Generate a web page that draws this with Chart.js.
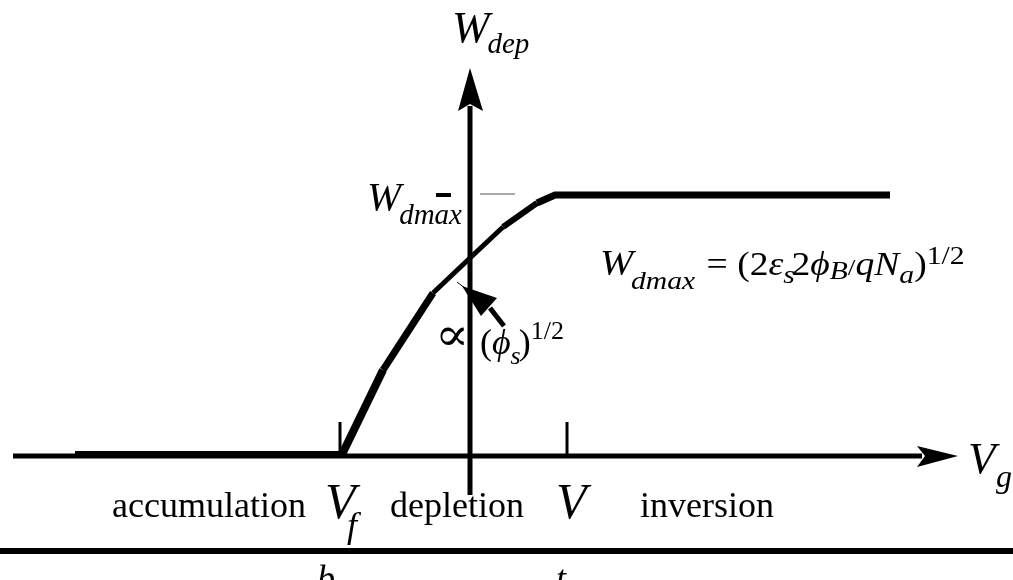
<!DOCTYPE html>
<html>
<head>
<meta charset="utf-8">
<script src="https://cdn.jsdelivr.net/npm/chart.js@4/dist/chart.umd.min.js"></script>
<style>
  body { margin: 0; background: #fff; }
  #wrap { width: 1013px; height: 580px; }
</style>
</head>
<body>
<div id="wrap"><canvas id="mosChart" width="1013" height="580"></canvas></div>
<script>
// Depletion width W_dep versus gate voltage V_g (schematic units)
const gateVoltage = [-3.95, -1.28, -0.87, -0.37, 0.00, 0.33, 0.67, 0.85, 4.20];
const depWidth    = [ 0.015, 0.015, 0.86,  1.63, 1.98, 2.29, 2.53, 2.61, 2.61];

// flat-band and threshold voltages, W_dmax level
const vFlatBand = -1.30;
const vThreshold = 0.97;
const wDmax = 2.61;

// stroke width of each piece of the curve
const segWidths = [7, 8, 7, 5, 5, 6, 7, 7];

const curve = gateVoltage.map((v, i) => ({ x: v, y: depWidth[i] }));

function seg(x0, y0, x1, y1) { return [{ x: x0, y: y0 }, { x: x1, y: y1 }]; }

function lineSet(data, width, color) {
  return {
    data: data, borderColor: color || '#000', borderWidth: width,
    pointRadius: 0, fill: false, tension: 0, borderCapStyle: 'butt'
  };
}

// arrows, labels and the bar under the labels
const overlay = {
  id: 'overlay',
  afterDatasetsDraw(chart) {
    const c = chart.ctx;
    const xs = chart.scales.x, ys = chart.scales.y;
    const P = (x, y) => [xs.getPixelForValue(x), ys.getPixelForValue(y)];
    c.save();
    c.fillStyle = '#000';
    c.strokeStyle = '#000';

    function poly(pts) {
      c.beginPath();
      pts.forEach((p, i) => { const q = P(p[0], p[1]); i ? c.lineTo(q[0], q[1]) : c.moveTo(q[0], q[1]); });
      c.closePath();
      c.fill();
    }
    // axis arrowheads
    poly([[0, 3.88], [-0.12, 3.45], [0, 3.52], [0.13, 3.45]]);
    poly([[4.88, 0], [4.47, 0.10], [4.55, 0], [4.47, -0.11]]);

    // arrow pointing at the curve
    c.lineWidth = 1;
    c.beginPath();
    let a = P(-0.13, 1.74), b = P(0.0, 1.64);
    c.moveTo(a[0], a[1]); c.lineTo(b[0], b[1]); c.stroke();
    poly([[-0.08, 1.70], [0.27, 1.58], [0.11, 1.40]]);
    c.lineWidth = 5;
    c.beginPath();
    a = P(0.20, 1.48); b = P(0.34, 1.30);
    c.moveTo(a[0], a[1]); c.lineTo(b[0], b[1]); c.stroke();

    // text runs: [text, font, baseline shift, extra advance]; sx stretches the run horizontally
    function runs(x, y, list, sx, family) {
      let [px, py] = P(x, y);
      sx = sx || 1;
      family = family || "'Liberation Serif', 'Times New Roman', serif";
      c.save();
      c.translate(px, py);
      c.scale(sx, 1);
      c.textBaseline = 'alphabetic';
      c.textAlign = 'left';
      let cx = 0;
      list.forEach(r => {
        c.font = r[1] + ' ' + family;
        c.fillText(r[0], cx, r[2] || 0);
        cx += c.measureText(r[0]).width + (r[3] || 0);
      });
      c.restore();
    }
    const I = s => 'italic ' + s + 'px';
    const R = s => s + 'px';

    runs(-0.18, 4.14, [['W', I(45), 0, -2], ['dep', I(29), 11]]);
    runs(-1.03, 2.46, [['W', I(41), 0, -2], ['dmax', I(29), 14]]);
    runs(1.30, 1.81, [
      ['W', I(35), 0, -2], ['dmax', I(26), 14, 10], ['= (2', R(33)], ['ε', I(33)], ['s', I(26), 8, -3],
      ['2', R(33)], ['ϕ', I(33)], ['B', I(26), 4], ['/', R(24), 0], ['q', I(33)], ['N', I(33)],
      ['a', I(26), 8], [')', R(33)], ['1/2', R(26), -11]
    ], 1.14);
    runs(-0.35, 1.06, [['∝', R(46)]], 1.1, "'DejaVu Serif', serif");
    runs(0.10, 1.02, [['(', R(36)], ['ϕ', I(36)], ['s', I(26), 10, -2], [')', R(36)], ['1/2', R(26), -15]]);

    runs(-3.58, -0.61, [['accumulation', R(36)]]);
    runs(-1.45, -0.62, [['V', I(50)]]);
    runs(-1.23, -0.81, [['f', I(36)]]);
    runs(-0.80, -0.61, [['depletion', R(36)]]);
    runs(0.86, -0.62, [['V', I(50)]]);
    runs(1.70, -0.61, [['inversion', R(36)]]);
    runs(4.98, -0.17, [['V', I(45)]]);
    runs(5.26, -0.31, [['g', I(32)]]);
    runs(-1.53, -1.34, [['b', I(36)]]);
    runs(0.86, -1.34, [['t', I(36)]]);
    c.restore();
  }
};

new Chart(document.getElementById('mosChart'), {
  type: 'line',
  data: {
    datasets: [
      Object.assign(lineSet(curve, 7), {
        borderJoinStyle: 'miter',
        segment: { borderWidth: ctx => segWidths[ctx.p0DataIndex] }
      }),
      lineSet(seg(-4.57, 0, 4.52, 0), 5),
      lineSet(seg(0, -0.39, 0, 3.50), 5),
      lineSet(seg(vFlatBand, 0, vFlatBand, 0.34), 3),
      lineSet(seg(vThreshold, 0, vThreshold, 0.34), 3),
      lineSet(seg(-0.34, wDmax, -0.19, wDmax), 4),
      lineSet(seg(0.10, wDmax + 0.01, 0.45, wDmax + 0.01), 1, '#555'),
      lineSet(seg(-4.80, -0.95, 5.50, -0.95), 6)
    ]
  },
  options: {
    responsive: false,
    animation: false,
    layout: { padding: 0 },
    plugins: { legend: { display: false }, tooltip: { enabled: false } },
    scales: {
      x: { type: 'linear', min: -4.70, max: 5.43, display: false },
      y: { type: 'linear', min: -1.24, max: 4.56, display: false }
    }
  },
  plugins: [overlay]
});
</script>
</body>
</html>
